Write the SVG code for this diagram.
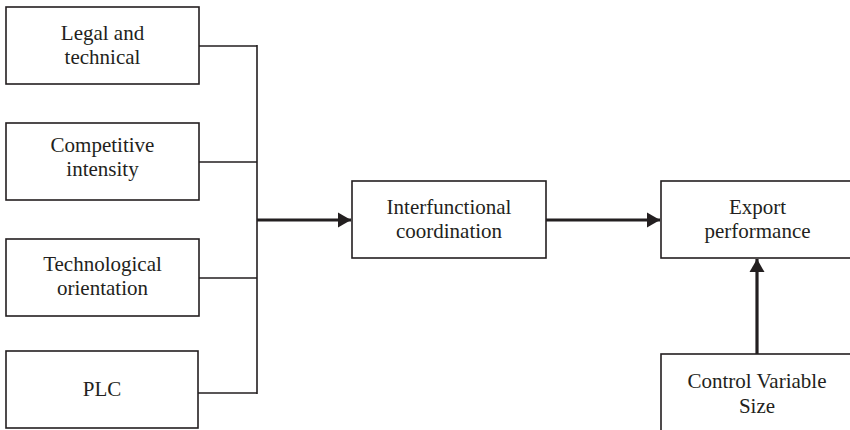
<svg xmlns="http://www.w3.org/2000/svg" width="850" height="430" viewBox="0 0 850 430">
<defs>
<style>
.box{fill:#fff;stroke:#231f20;stroke-width:1.6}
.t{font-family:"Liberation Serif","Times New Roman",serif;font-size:21px;fill:#231f20;text-anchor:middle}
.thin{fill:none;stroke:#231f20;stroke-width:1.6}
.thick{fill:none;stroke:#231f20;stroke-width:3.2}
</style>
<marker id="ah" markerUnits="userSpaceOnUse" markerWidth="14" markerHeight="16" refX="13" refY="8" orient="auto">
<path d="M0,0.5 L13,8 L0,15.5 Z" fill="#231f20"/>
</marker>
</defs>
<rect width="850" height="430" fill="#fff"/>
<g id="connectors">
<path class="thin" d="M199,46 H257 M199,162 H257 M199,278 H257 M198,393 H257 M257,45 V394"/>
<path class="thick" d="M257,220 H351" marker-end="url(#ah)"/>
<path class="thick" d="M546,220 H660" marker-end="url(#ah)"/>
<path class="thick" d="M757,354 V259" marker-end="url(#ah)"/>
</g>
<g id="legal">
<rect class="box" x="6" y="7" width="193" height="77"/>
<text class="t" x="102.5" y="40">Legal and</text>
<text class="t" x="102.5" y="64">technical</text>
</g>
<g id="competitive">
<rect class="box" x="6" y="123" width="193" height="77"/>
<text class="t" x="102.5" y="152">Competitive</text>
<text class="t" x="102.5" y="176">intensity</text>
</g>
<g id="technological">
<rect class="box" x="6" y="239" width="193" height="77"/>
<text class="t" x="102.5" y="271">Technological</text>
<text class="t" x="102.5" y="295">orientation</text>
</g>
<g id="plc">
<rect class="box" x="6" y="351" width="192" height="77"/>
<text class="t" x="102" y="396">PLC</text>
</g>
<g id="interfunctional">
<rect class="box" x="352" y="181" width="194" height="77"/>
<text class="t" x="449" y="214">Interfunctional</text>
<text class="t" x="449" y="238">coordination</text>
</g>
<g id="export">
<rect class="box" x="661" y="181" width="195" height="77"/>
<text class="t" x="757.5" y="214">Export</text>
<text class="t" x="757.5" y="238">performance</text>
</g>
<g id="control">
<rect class="box" x="661" y="354" width="195" height="80"/>
<text class="t" x="757" y="388">Control Variable</text>
<text class="t" x="757" y="413">Size</text>
</g>
</svg>
